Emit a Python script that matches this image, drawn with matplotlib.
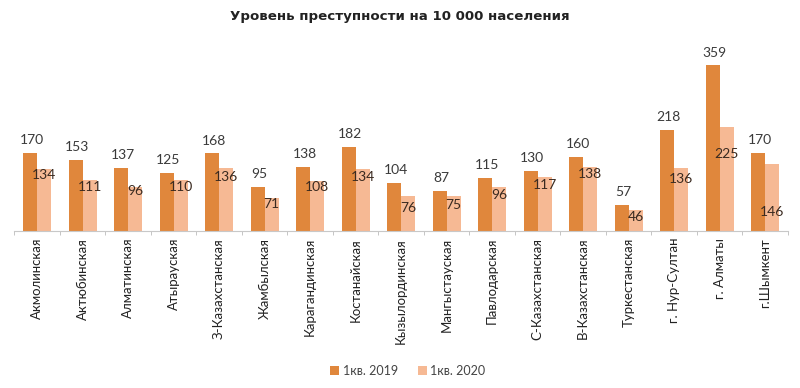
import matplotlib.pyplot as plt
import numpy as np

# Data
regions = ["Акмолинская", "Актюбинская", "Алматинская", "Атырауская",
           "З-Казахстанская", "Жамбылская", "Карагандинская", "Костанайская",
           "Кызылординская", "Мангыстауская", "Павлодарская", "С-Казахстанская",
           "В-Казахстанская", "Туркестанская", "г. Нур-Султан", "г. Алматы",
           "г.Шымкент"]
q1_2019 = [170, 153, 137, 125, 168, 95, 138, 182, 104, 87, 115, 130, 160, 57, 218, 359, 170]
q1_2020 = [134, 111, 96, 110, 136, 71, 108, 134, 76, 75, 96, 117, 138, 46, 136, 225, 146]

# vertical shift (points) of the 2020 labels below bar tops, as placed in the original
lab_shift = [-4, -5, -3, -5, -6, -4, -4, -6, -9, -6, -6, -6, -5, -5, -8, -19, -35]

c19 = "#E0873C"
c20 = "#F6B994"
font = "Lato"

fig = plt.figure(figsize=(8, 3.88), dpi=100)
ax = fig.add_axes([0.018, 0.405, 0.967, 0.475])

x = np.arange(len(regions))
w = 0.31
ax.bar(x - w / 2, q1_2019, w, color=c19, label="1кв. 2019")
ax.bar(x + w / 2, q1_2020, w, color=c20, label="1кв. 2020")

for i in x:
    ax.annotate(str(q1_2019[i]), (x[i] - w / 2, q1_2019[i]), xytext=(1, 5),
                textcoords="offset points", ha="center", va="bottom",
                fontsize=10, family=font, color="#3a3a3a")
    ax.annotate(str(q1_2020[i]), (x[i] + w / 2, q1_2020[i]), xytext=(0, lab_shift[i]),
                textcoords="offset points", ha="center", va="center",
                fontsize=10, family=font, color="#3a2a20")

ax.set_xlim(-0.5, len(regions) - 0.5)
ax.set_ylim(0, 400)
ax.set_yticks([])
ax.set_xticks(x)
ax.set_xticklabels(regions, rotation=90, fontsize=9.5, family=font, color="#222222")
ax.tick_params(axis="x", length=0, pad=5)
ax.set_xticks(np.arange(len(regions) + 1) - 0.5, minor=True)
ax.tick_params(axis="x", which="minor", length=3, color="#bbbbbb")

for s in ["top", "right", "left"]:
    ax.spines[s].set_visible(False)
ax.spines["bottom"].set_color("#c8c8c8")

fig.suptitle("Уровень преступности на 10 000 населения", x=0.5, y=0.975,
             fontsize=9.6, fontweight="bold", family="DejaVu Sans", color="#222222")

fig.legend(loc="lower center", bbox_to_anchor=(0.51, 0.0), ncol=2, frameon=False,
           prop={"family": font, "size": 9}, handlelength=0.7, handleheight=0.7,
           handletextpad=0.3, columnspacing=1.6, labelcolor="#444444")

fig.savefig("out.png", dpi=100)
